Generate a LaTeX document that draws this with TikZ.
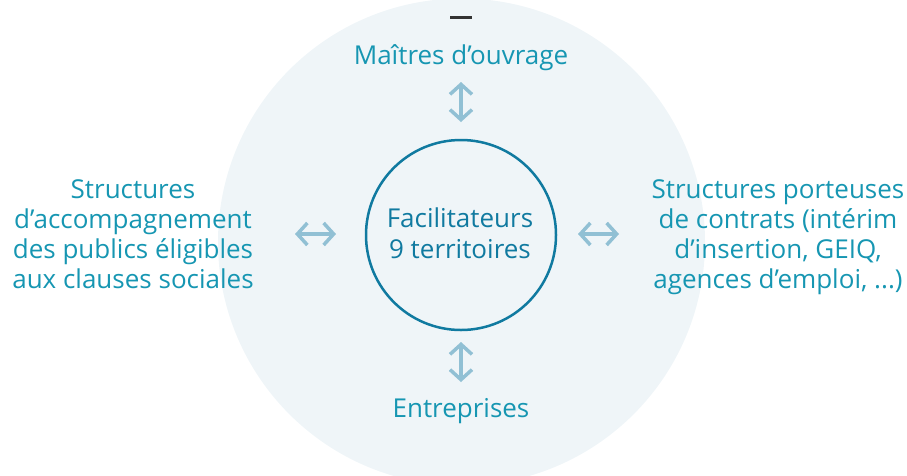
\documentclass[tikz,border=0pt]{standalone}
\usepackage{fontspec}
\setmainfont{Open Sans}
\usetikzlibrary{arrows.meta}
\definecolor{bgc}{RGB}{239,245,248}
\definecolor{txt}{RGB}{22,150,178}
\definecolor{ring}{RGB}{16,122,160}
\definecolor{arr}{RGB}{145,192,212}
\definecolor{dashcol}{RGB}{51,51,51}
\tikzset{
  lbl/.style={text=txt, font=\fontsize{26}{30}\selectfont, align=center, inner sep=0pt},
  biarrow/.style={draw=arr, line width=3.5pt, {Straight Barb[length=10pt,width=22pt]}-{Straight Barb[length=10pt,width=22pt]}}
}
\begin{document}
\begin{tikzpicture}[x=1pt,y=-1pt]
\useasboundingbox (0,0) rectangle (907,475);
\fill[bgc] (461.5,242) circle (243.5);
\draw[dashcol, line width=3pt] (450,17) -- (472,17);
\node[circle, draw=ring, line width=2.5pt, minimum size=190pt, inner sep=0pt] (fac) at (461,235) {};
\node[lbl, text=ring, anchor=base] (fac1) at (460,227) {Facilitateurs};
\node[lbl, text=ring, anchor=base] (fac2) at (460,258) {9 territoires};
\node[lbl, anchor=base] (mo) at (461,64) {Maîtres d’ouvrage};
\node[lbl, anchor=base] (ent) at (461,417) {Entreprises};
\node[lbl, anchor=base] (left) at (133,288) {Structures\\d’accompagnement\\des publics éligibles\\aux clauses sociales};
\node[lbl, anchor=base] (right) at (778,288) {Structures porteuses\\de contrats (intérim\\d’insertion, GEIQ,\\agences d’emploi, ...)};
\coordinate (t1) at (461,82); \coordinate (t2) at (461,122);
\coordinate (b1) at (461,342); \coordinate (b2) at (461,382);
\coordinate (l1) at (295,234); \coordinate (l2) at (336,234);
\coordinate (r1) at (578,234); \coordinate (r2) at (619,234);
\draw[biarrow] (t1) -- (t2);
\draw[biarrow] (b1) -- (b2);
\draw[biarrow] (l1) -- (l2);
\draw[biarrow] (r1) -- (r2);
\end{tikzpicture}
\end{document}
